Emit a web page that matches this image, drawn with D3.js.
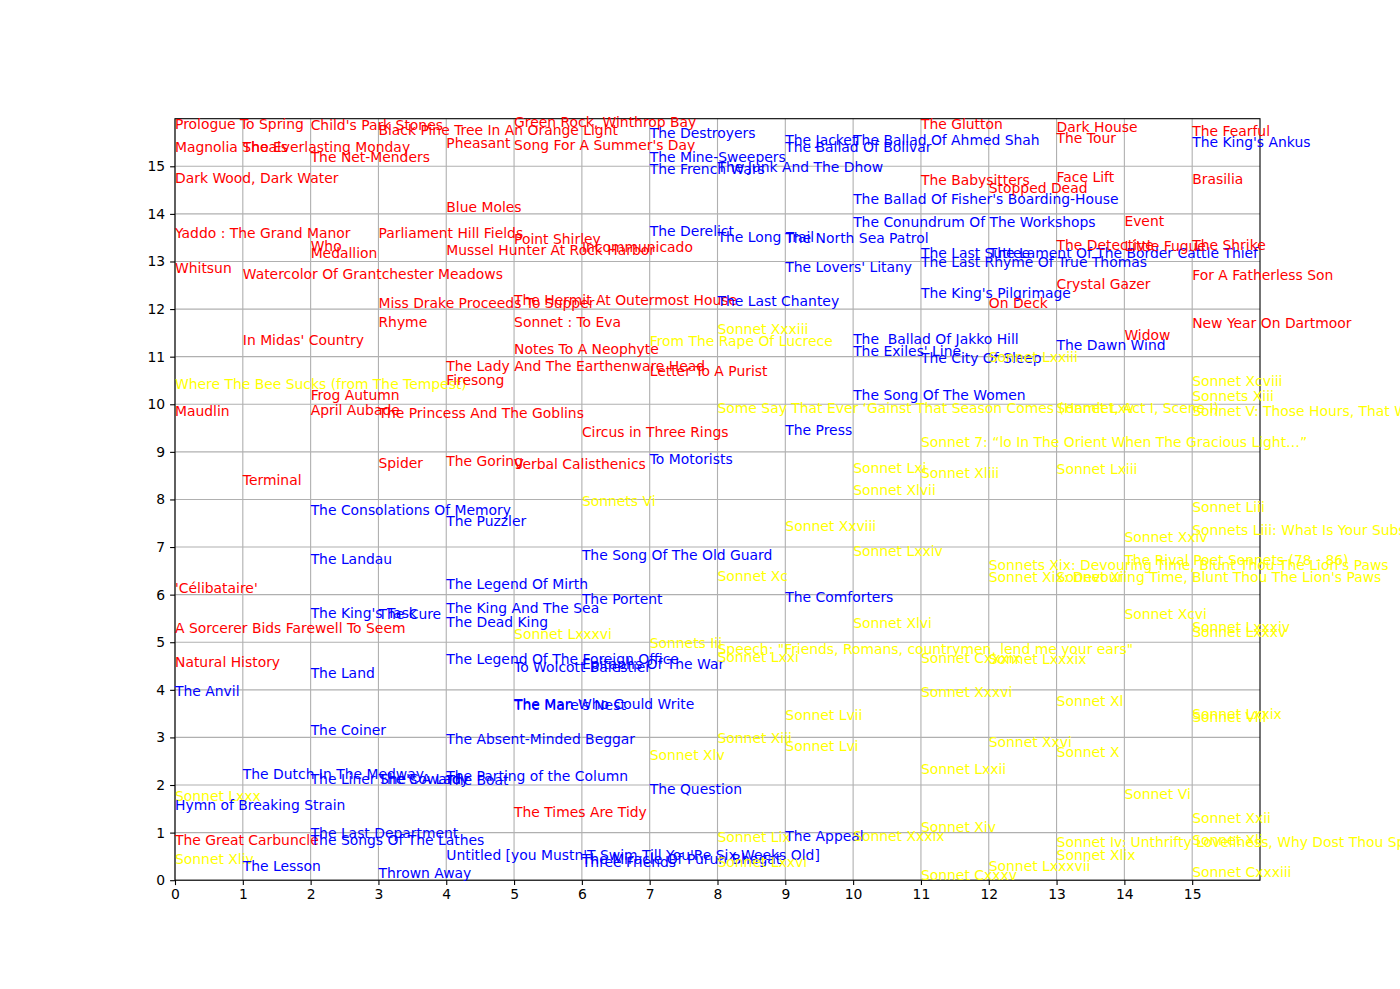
<!DOCTYPE html>
<html><head><meta charset="utf-8">
<script src="https://cdn.jsdelivr.net/npm/d3@7"></script>
<style>body{margin:0;background:#fff;} svg{display:block;} text{font-family:"DejaVu Sans",sans-serif;}</style>
</head><body>
<svg id="c" width="1400" height="989"></svg>
<script>
// Data: titles, x column, y value, group (0 = red, 1 = blue, 2 = yellow)
const titles = [
"Prologue To Spring","Magnolia Shoals","Dark Wood, Dark Water","Yaddo : The Grand Manor","Whitsun","Where The Bee Sucks (from The Tempest)","Maudlin","'Célibataire'","A Sorcerer Bids Farewell To Seem","Natural History","The Anvil","Sonnet Lxxx","Hymn of Breaking Strain","The Great Carbuncle","Sonnet Xliv",
"The Everlasting Monday","Watercolor Of Grantchester Meadows","In Midas' Country","Terminal","The Dutch In The Medway","The Lesson",
"Child's Park Stones","The Net-Menders","Who","Medallion","Frog Autumn","April Aubade","The Consolations Of Memory","The Landau","The King's Task","The Land","The Coiner","The Liner She's A Lady","The Last Department","The Songs Of The Lathes",
"Black Pine Tree In An Orange Light","Parliament Hill Fields","Miss Drake Proceeds To Supper","Rhyme","The Princess And The Goblins","Spider","The Cure","The Coward","Thrown Away",
"Pheasant","Blue Moles","Mussel Hunter At Rock Harbor","The Lady And The Earthenware Head","Firesong","The Goring","The Puzzler","The Legend Of Mirth","The King And The Sea","The Dead King","The Legend Of The Foreign Office","The Absent-Minded Beggar","The Boat","The Parting of the Column","Untitled [you Mustn'T Swim Till You'Re Six Weeks Old]",
"Green Rock, Winthrop Bay","Song For A Summer's Day","Point Shirley","The Hermit At Outermost House","Sonnet : To Eva","Notes To A Neophyte","Verbal Calisthenics","Sonnet Lxxxvi","To Wolcott Balestier","The Man Who Could Write","The Mare's Nest","The Times Are Tidy",
"Incommunicado","Circus in Three Rings","Sonnets Vi","The Song Of The Old Guard","The Portent","Epitaphs Of The War","Three Friends","The Miracle Of Purun Bhagat",
"The Destroyers","The Mine-Sweepers","The French Wars","The Derelict","From The Rape Of Lucrece","Letter To A Purist","To Motorists","Sonnets Iii","Sonnet Xlv","The Question",
"The Junk And The Dhow","The Long Trail","The Last Chantey","Sonnet Xxxiii","Some Say That Ever ‘Gainst That Season Comes (Hamlet, Act I, Scene I)","Sonnet Xc","Speech: \"Friends, Romans, countrymen, lend me your ears\"","Sonnet Lxxi","Sonnet Xiii","Sonnet Lix","Sonnet Lxxvi",
"The Jacket","The Ballad Of Bolivar","The North Sea Patrol","The Lovers' Litany","The Press","Sonnet Xxviii","The Comforters","Sonnet Lvii","Sonnet Lvi","The Appeal",
"The Ballad Of Ahmed Shah","The Ballad Of Fisher's Boarding-House","The Conundrum Of The Workshops","The  Ballad Of Jakko Hill","The Exiles' Line","The Song Of The Women","Sonnet Lxi","Sonnet Xlvii","Sonnet Lxxiv","Sonnet Xlvi","Sonnet Xxxix",
"The Glutton","The Babysitters","The Last Suttee","The Last Rhyme Of True Thomas","The King's Pilgrimage","The City Of Sleep","Sonnet 7: “lo In The Orient When The Gracious Light…”","Sonnet Xliii","Sonnet Cxxxix","Sonnet Xxxvi","Sonnet Lxxii","Sonnet Xiv","Sonnet Cxxxv",
"Stopped Dead","The Lament Of The Border Cattle Thief","On Deck","Sonnet Lxxiii","Sonnets Xix: Devouring Time, Blunt Thou The Lion's Paws","Sonnet Xix: Devouring Time, Blunt Thou The Lion's Paws","Sonnet Lxxxix","Sonnet Xxvi","Sonnet Lxxxvii",
"Dark House","The Tour","Face Lift","The Detective","Crystal Gazer","The Dawn Wind","Sonnet Lxv","Sonnet Lxiii","Sonnet Xi","Sonnet Xl","Sonnet X","Sonnet Iv: Unthrifty Loveliness, Why Dost Thou Spend","Sonnet Xlix",
"Event","Little Fugue","Widow","Sonnet Xxiv","The Rival Poet Sonnets (78 - 86)","Sonnet Xcvi","Sonnet Vi",
"The Fearful","The King's Ankus","Brasilia","The Shrike","For A Fatherless Son","New Year On Dartmoor","Sonnet Xcviii","Sonnets Xiii","Sonnet V: Those Hours, That With Gentle Work Did Frame","Sonnet Liii","Sonnets Liii: What Is Your Substance, Whereof Are You Made","Sonnet Lxxxiv","Sonnet Lxxxv","Sonnet Lxxix","Sonnet Viii","Sonnet Xxii","Sonnet Xli","Sonnet Cxxxiii"
];
const xVals = [
0,0,0,0,0,0,0,0,0,0,0,0,0,0,0,
1,1,1,1,1,1,
2,2,2,2,2,2,2,2,2,2,2,2,2,2,
3,3,3,3,3,3,3,3,3,
4,4,4,4,4,4,4,4,4,4,4,4,4,4,4,
5,5,5,5,5,5,5,5,5,5,5,5,
6,6,6,6,6,6,6,6,
7,7,7,7,7,7,7,7,7,7,
8,8,8,8,8,8,8,8,8,8,8,
9,9,9,9,9,9,9,9,9,9,
10,10,10,10,10,10,10,10,10,10,10,
11,11,11,11,11,11,11,11,11,11,11,11,11,
12,12,12,12,12,12,12,12,12,
13,13,13,13,13,13,13,13,13,13,13,13,13,
14,14,14,14,14,14,14,
15,15,15,15,15,15,15,15,15,15,15,15,15,15,15,15,15,15
];
const yVals = [
15.78,15.30,14.65,13.49,12.76,10.32,9.75,6.04,5.19,4.47,3.87,1.67,1.48,0.73,0.34,
15.30,12.63,11.25,8.30,2.13,0.19,
15.76,15.09,13.21,13.08,10.09,9.78,7.67,6.64,5.50,4.25,3.05,2.02,0.89,0.75,
15.66,13.49,12.02,11.62,9.71,8.66,5.49,2.02,0.05,
15.39,14.04,13.14,10.70,10.41,8.70,7.44,6.12,5.61,5.32,4.54,2.86,2.01,2.08,0.42,
15.82,15.35,13.37,12.09,11.62,11.06,8.64,5.07,4.37,3.60,3.58,1.33,
13.20,9.31,7.86,6.73,5.80,4.44,0.28,0.34,
15.59,15.09,14.84,13.54,11.23,10.59,8.75,4.87,2.53,1.81,
14.88,13.40,12.07,11.48,9.81,6.29,4.75,4.59,2.88,0.80,0.28,
15.45,15.30,13.39,12.78,9.35,7.34,5.85,3.37,2.71,0.82,
15.45,14.21,13.72,11.26,11.02,10.09,8.55,8.09,6.81,5.29,0.82,
15.78,14.61,13.07,12.89,12.23,10.86,9.10,8.45,4.56,3.84,2.23,1.01,0.01,
14.43,13.07,12.02,10.88,6.52,6.27,4.54,2.80,0.19,
15.72,15.49,14.68,13.24,12.42,11.14,9.82,8.54,6.27,3.66,2.58,0.70,0.42,
13.75,13.21,11.35,7.11,6.62,5.49,1.71,
15.64,15.40,14.62,13.24,12.61,11.60,10.38,10.07,9.75,7.74,7.25,5.22,5.11,3.39,3.32,1.20,0.75,0.07
];
const groups = [
0,0,0,0,0,2,0,0,0,0,1,2,1,0,2,
0,0,0,0,1,1,
0,0,0,0,0,0,1,1,1,1,1,1,1,1,
0,0,0,0,0,0,1,1,1,
0,0,0,0,0,0,1,1,1,1,1,1,1,1,1,
0,0,0,0,0,0,0,2,1,1,1,0,
0,0,2,1,1,1,1,1,
1,1,1,1,2,0,1,2,2,1,
1,1,1,2,2,2,2,2,2,2,2,
1,1,1,1,1,2,1,2,2,1,
1,1,1,1,1,1,2,2,2,2,2,
0,0,1,1,1,1,2,2,2,2,2,2,2,
0,1,0,2,2,2,2,2,2,
0,0,0,0,0,1,2,2,2,2,2,2,2,
0,0,0,2,2,2,2,
0,1,0,0,0,0,2,2,2,2,2,2,2,2,2,2,2,2
];
const groupColors = ["#ff0000","#0000ff","#ffff00"];
const xTicks = d3.range(0,16);
const yTicks = d3.range(0,16);

(function(){
const svg = d3.select("#c");
const W = 1400, H = 989;
const mL = 175, mR = 1260, mT = 118.7, mB = 880.2;
const x = d3.scaleLinear().domain([0,16]).range([mL,mR]);
const y = d3.scaleLinear().domain([0,16]).range([mB,mT]);

svg.append("rect").attr("width",W).attr("height",H).attr("fill","#fff");

// grid
const grid = svg.append("g");
grid.selectAll("line.gx").data(xTicks).join("line").attr("class","gx")
  .attr("x1",d=>x(d)).attr("x2",d=>x(d)).attr("y1",mT).attr("y2",mB)
  .attr("stroke","#b0b0b0").attr("stroke-width",1.1);
grid.selectAll("line.gy").data(yTicks).join("line").attr("class","gy")
  .attr("y1",d=>y(d)).attr("y2",d=>y(d)).attr("x1",mL).attr("x2",mR)
  .attr("stroke","#b0b0b0").attr("stroke-width",1.1);

// axes
const xAxis = d3.axisBottom(x).tickValues(xTicks).tickSize(4.9).tickPadding(4.4).tickFormat(d3.format("d"));
const yAxis = d3.axisLeft(y).tickValues(yTicks).tickSize(4.9).tickPadding(4.9).tickFormat(d3.format("d"));
const gx = svg.append("g").attr("transform",`translate(0,${mB})`).call(xAxis);
const gy = svg.append("g").attr("transform",`translate(${mL},0)`).call(yAxis);
[gx,gy].forEach(g=>{
  g.select(".domain").remove();
  g.selectAll("line").attr("stroke","#000").attr("stroke-width",1.1);
  g.selectAll("text").attr("font-family","DejaVu Sans").attr("font-size","13.9px").attr("fill","#000");
});

// spines
svg.append("rect").attr("x",mL).attr("y",mT).attr("width",mR-mL).attr("height",mB-mT)
  .attr("fill","none").attr("stroke","#000").attr("stroke-width",1.1);

// labels
const items = titles.map((t,i)=>({t, xv:xVals[i], yv:yVals[i], g:groups[i]}));
svg.append("g").selectAll("text").data(items).join("text")
  .attr("x",d=>x(d.xv)).attr("y",d=>y(d.yv))
  .attr("font-size","13.9px").attr("fill",d=>groupColors[d.g])
  .style("white-space","pre")
  .text(d=>d.t);
})();
</script>
</body></html>
